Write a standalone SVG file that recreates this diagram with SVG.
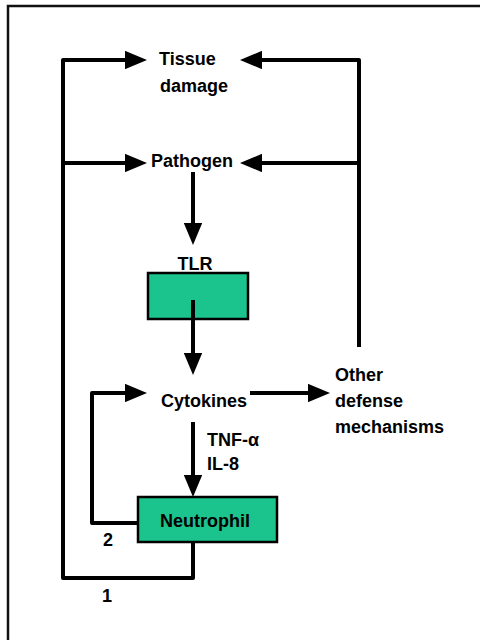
<svg xmlns="http://www.w3.org/2000/svg" width="480" height="640" viewBox="0 0 480 640">
<style>
text{font-family:"Liberation Sans",Arial,sans-serif;font-weight:bold;font-size:18px;fill:#000}
.c{text-anchor:middle}
.ln{fill:none;stroke:#000;stroke-width:4;stroke-linejoin:round}
.box{fill:#1CC48D;stroke:#000;stroke-width:2.5}
</style>
<defs>
<marker id="ah" markerWidth="5.5" markerHeight="4.6" refX="0.5" refY="2.3" orient="auto" markerUnits="strokeWidth">
<path d="M0,0 L5.5,2.3 L0,4.6 Z" fill="#000"/>
</marker>
</defs>
<rect x="0" y="0" width="480" height="640" fill="#fff"/>
<g id="frame">
<path d="M8,640 L8,6 L480,6" fill="none" stroke="#111" stroke-width="2.5"/>
</g>
<g id="tissue"><text x="159" y="65">Tissue</text><text x="160" y="92">damage</text></g>
<g id="pathogen"><text class="c" x="192" y="167">Pathogen</text></g>
<g id="tlr"><text class="c" x="195" y="270">TLR</text><rect class="box" x="148" y="273" width="100" height="46"/></g>
<g id="cytokines"><text class="c" x="204" y="407">Cytokines</text></g>
<g id="other"><text x="335" y="381">Other</text><text x="335" y="407">defense</text><text x="335" y="433">mechanisms</text></g>
<g id="neutrophil"><rect class="box" x="138" y="497" width="139" height="45"/><text class="c" x="205" y="527">Neutrophil</text></g>
<g id="connectors">
<path class="ln" d="M193,542 L193,578 L63,578 L63,60 L127,60" marker-end="url(#ah)"/>
<path class="ln" d="M63,163 L127,163" marker-end="url(#ah)"/>
<path class="ln" d="M359,347 L359,60 L260,60" marker-end="url(#ah)"/>
<path class="ln" d="M359,163 L260,163" marker-end="url(#ah)"/>
<path class="ln" d="M193,172 L193,225" marker-end="url(#ah)"/>
<path class="ln" d="M193,300 L193,355" marker-end="url(#ah)"/>
<path class="ln" d="M138,523 L92,523 L92,393 L127,393" marker-end="url(#ah)"/>
<path class="ln" d="M250,393 L310,393" marker-end="url(#ah)"/>
<path class="ln" d="M193,422 L193,477" marker-end="url(#ah)"/>
<text x="207" y="446">TNF-α</text>
<text x="207" y="470">IL-8</text>
<text class="c" x="108" y="546">2</text>
<text class="c" x="107" y="602">1</text>
</g>
</svg>
